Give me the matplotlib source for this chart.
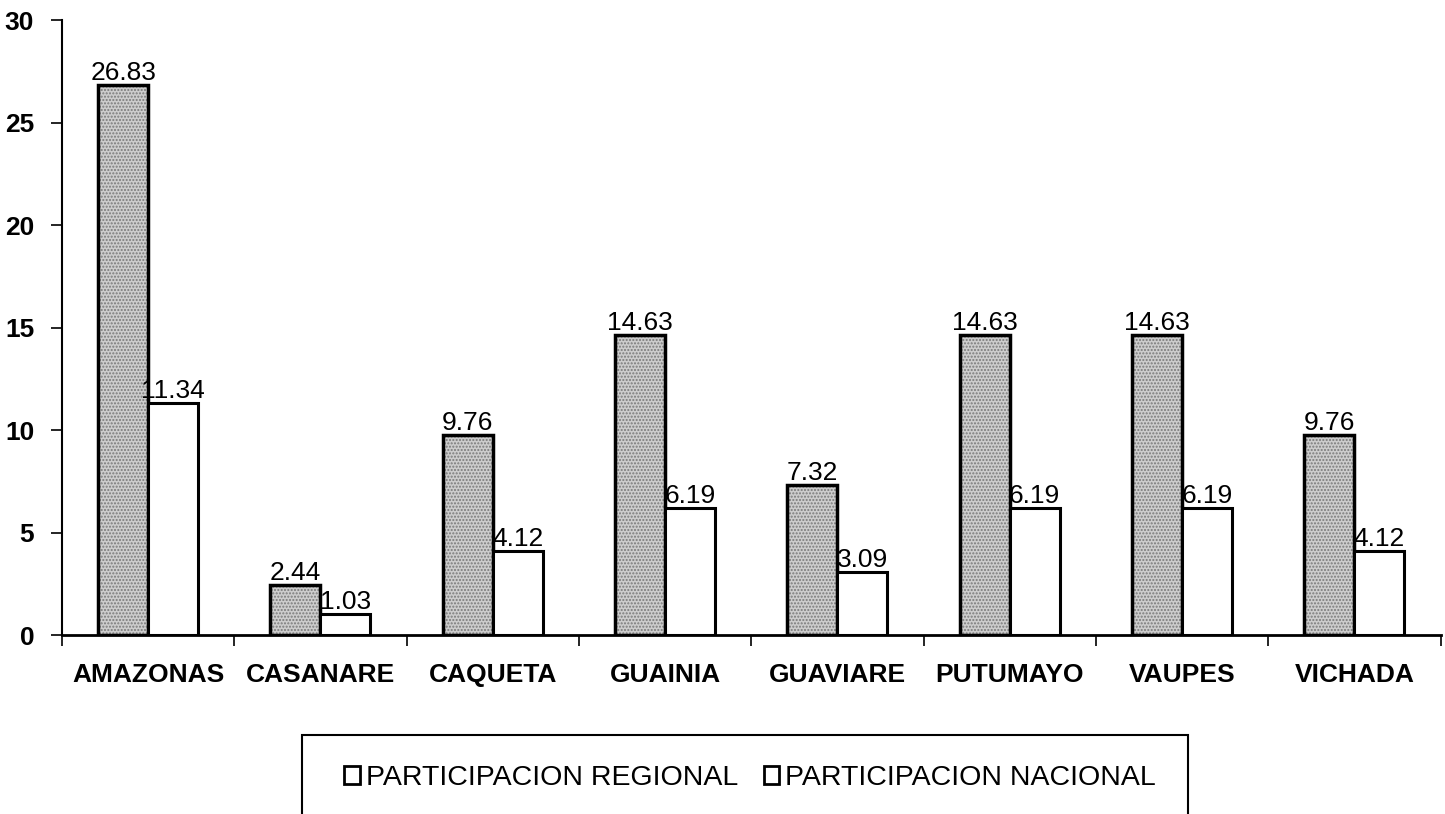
import numpy as np
import matplotlib.pyplot as plt
from matplotlib.patches import Patch, Rectangle

plt.rcParams['font.family'] = ['Liberation Sans', 'DejaVu Sans']

# departamentos y participacion (%)
departamentos = ['AMAZONAS', 'CASANARE', 'CAQUETA', 'GUAINIA', 'GUAVIARE',
                 'PUTUMAYO', 'VAUPES', 'VICHADA']
regional = [26.83, 2.44, 9.76, 14.63, 7.32, 14.63, 14.63, 9.76]
nacional = [11.34, 1.03, 4.12, 6.19, 3.09, 6.19, 6.19, 4.12]
y_ticks = [0, 5, 10, 15, 20, 25, 30]

W, H = 1445, 814
fig = plt.figure(figsize=(W / 100, H / 100), dpi=100)
ax = fig.add_axes([0.0429, 0.2199, 0.954, 0.7555])

x = np.arange(len(departamentos))
w = 0.29

# stippled fill for the regional bars, outline drawn on top
ax.bar(x - w / 2, regional, w, color='#cdcdcd', edgecolor='#7a7a7a',
       hatch='.....', linewidth=0, zorder=2)
ax.bar(x - w / 2, regional, w, facecolor='none', edgecolor='black',
       linewidth=2.5, zorder=3)
ax.bar(x + w / 2, nacional, w, color='white', edgecolor='black',
       linewidth=2.2, zorder=3)

for xi, v in zip(x - w / 2, regional):
    ax.text(xi, v, f'{v:.2f}', ha='center', va='bottom', fontsize=19)
for xi, v in zip(x + w / 2, nacional):
    ax.text(xi, v, f'{v:.2f}', ha='center', va='bottom', fontsize=19)

ax.set_xlim(-0.5, 7.5)
ax.set_ylim(0, 30)
ax.set_yticks(y_ticks)
ax.set_yticklabels([str(t) for t in y_ticks], fontsize=19, fontweight='bold')
ax.set_xticks(x)
ax.set_xticklabels(departamentos, fontsize=19, fontweight='bold')
ax.tick_params(axis='x', length=0, pad=20)
ax.set_xticks(np.arange(-0.5, 8.0, 1.0), minor=True)
ax.tick_params(axis='x', which='minor', length=8, width=1.2, direction='out')
ax.tick_params(axis='y', length=8, width=1.2, pad=12)

for s in ['top', 'right']:
    ax.spines[s].set_visible(False)
ax.spines['left'].set_linewidth(1.5)
ax.spines['bottom'].set_linewidth(2)

# legend box runs off the bottom of the page
fig.patches.append(Rectangle((302 / W, -0.05), (1188 - 302) / W, 0.05 + 1 - 735 / H,
                             transform=fig.transFigure, facecolor='none',
                             edgecolor='black', linewidth=1.5))
handles = [Patch(facecolor='white', edgecolor='black', linewidth=2),
           Patch(facecolor='white', edgecolor='black', linewidth=2)]
fig.legend(handles, ['PARTICIPACION REGIONAL', 'PARTICIPACION NACIONAL'],
           loc='center', bbox_to_anchor=(750 / W, 1 - 778 / H),
           ncol=2, frameon=False, fontsize=20.5,
           handlelength=0.55, handleheight=0.55, handletextpad=0.2,
           columnspacing=0.9, borderpad=0, borderaxespad=0)

fig.savefig('out.png', dpi=100)
